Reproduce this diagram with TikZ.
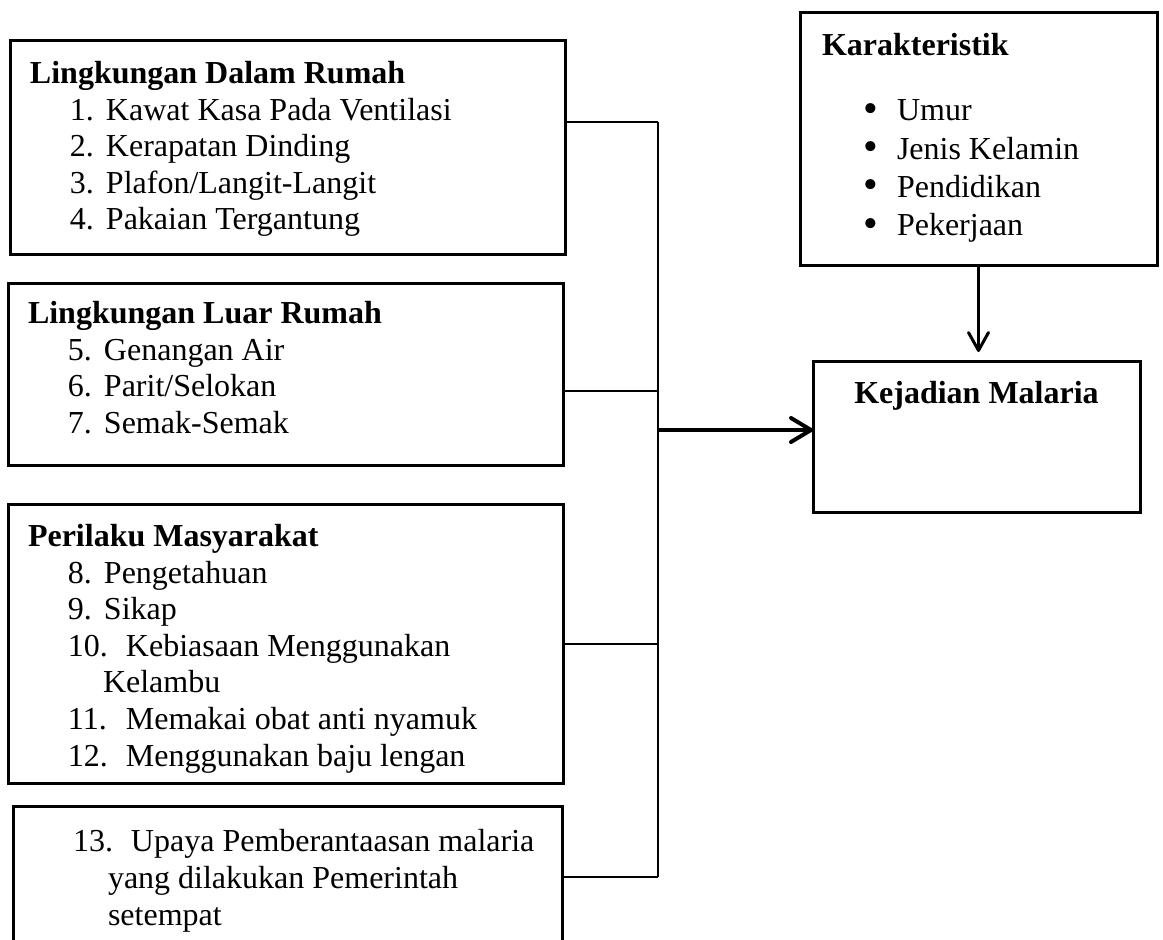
\documentclass[tikz,border=0pt]{standalone}
\usepackage{fontspec}
\setmainfont{Liberation Serif}
\usetikzlibrary{arrows.meta, positioning}
\newcommand{\itm}[2]{\hspace*{20pt}\makebox[18pt][l]{#1}#2}
\newcommand{\itmm}[2]{\hspace*{20pt}\makebox[29pt][l]{#1}#2}
\newcommand{\lanjut}[1]{\hspace*{37.5pt}#1}
\newcommand{\butir}[1]{\hspace*{20.5pt}\makebox[17pt][l]{\fontsize{21}{0}\selectfont\raisebox{-0.04em}{\textbullet}}#1}
\tikzset{
    base/.style = {
        inner sep=0pt, outer sep=0pt,
        font=\fontsize{16}{18.3}\selectfont
    },
    % Kotak dan isi
    kotak/.style = {base, draw=black, line width=1.5pt, rectangle, anchor=north west},
    isi/.style   = {base, align=left, anchor=north west},
    % Garis
    link/.style = {line width=1pt},
    arrow/.style = {line width=2pt, -{Straight Barb[length=10pt, width=12pt, round]}},
    arrowdown/.style = {line width=1.5pt, -{Straight Barb[length=9pt, width=10pt, round]}, shorten >=4.5pt}
}
\begin{document}
\begin{tikzpicture}[x=0.5pt, y=-0.5pt]
    \useasboundingbox (0,0) rectangle (1163,939);

    \node (dalam) [kotak, minimum width=277.5pt, minimum height=107pt] at (10,40) {};
    \node (dalamisi) [isi, below right=8.9pt and 10pt of dalam.north west]
        {\strut\textbf{Lingkungan Dalam Rumah}\\
         \itm{1.}{Kawat Kasa Pada Ventilasi}\\
         \itm{2.}{Kerapatan Dinding}\\
         \itm{3.}{Plafon/Langit-Langit}\\
         \itm{4.}{Pakaian Tergantung}};

    \node (luar) [kotak, minimum width=277.5pt, minimum height=91pt,
        below=14.5pt of dalam.south west, anchor=north west, xshift=-1pt] {};
    \node (luarisi) [isi, below right=7.4pt and 10pt of luar.north west]
        {\strut\textbf{Lingkungan Luar Rumah}\\
         \itm{5.}{Genangan Air}\\
         \itm{6.}{Parit/Selokan}\\
         \itm{7.}{Semak-Semak}};

    \node (perilaku) [kotak, minimum width=277.5pt, minimum height=139.5pt,
        below=19.5pt of luar.south west, anchor=north west] {};
    \node (perilakuisi) [isi, font=\fontsize{16}{18.3}\selectfont, below right=8.4pt and 10pt of perilaku.north west]
        {\strut\textbf{Perilaku Masyarakat}\\
         \itm{8.}{Pengetahuan}\\
         \itm{9.}{Sikap}\\
         \itmm{10.}{Kebiasaan Menggunakan}\\
         \lanjut{Kelambu}\\
         \itmm{11.}{Memakai obat anti nyamuk}\\
         \itmm{12.}{Menggunakan baju lengan}};

    \node (upaya) [kotak, minimum width=274.5pt, minimum height=71pt,
        below=11.5pt of perilaku.south west, anchor=north west, xshift=2.5pt] {};
    \node (upayaisi) [isi, font=\fontsize{16}{18.5}\selectfont, below right=9.9pt and 10pt of upaya.north west]
        {\strut\itmm{13.}{Upaya Pemberantaasan malaria}\\
         \lanjut{yang dilakukan Pemerintah}\\
         \lanjut{setempat}};

    \node (karak) [kotak, minimum width=178.5pt, minimum height=126.5pt] at (800,12) {};
    \node (karakisi) [isi, below right=8.9pt and 11pt of karak.north west]
        {\strut\textbf{Karakteristik}\\[14.2pt]
         \butir{Umur}\\[1pt]
         \butir{Jenis Kelamin}\\[0.8pt]
         \butir{Pendidikan}\\[0.8pt]
         \butir{Pekerjaan}};

    \node (kejadian) [kotak, minimum width=163.5pt, minimum height=75.5pt,
        below=48pt of karak.south west, anchor=north west, xshift=6.5pt] {};
    \node (kejadianisi) [base, below=8.4pt of kejadian.north]
        {\strut\textbf{Kejadian Malaria}};

    % garis penghubung
    \coordinate (bus1) at (658,122);
    \coordinate (bus2) at (658,391);
    \coordinate (hub) at (658,430);
    \draw [link] (dalam.east |- bus1) -- (bus1);
    \draw [link] (luar.east |- bus2) -- (bus2);
    \draw [link] (perilaku.east) -- (perilaku.east -| bus1);
    \draw [link] (upaya.east) -- (upaya.east -| bus1);
    \draw [link] (bus1) -- (upaya.east -| bus1);

    \draw [arrow] (hub) -- (kejadian.west |- hub);
    \draw [arrowdown] (karak.south) -- (karak.south |- kejadian.north);
\end{tikzpicture}
\end{document}
